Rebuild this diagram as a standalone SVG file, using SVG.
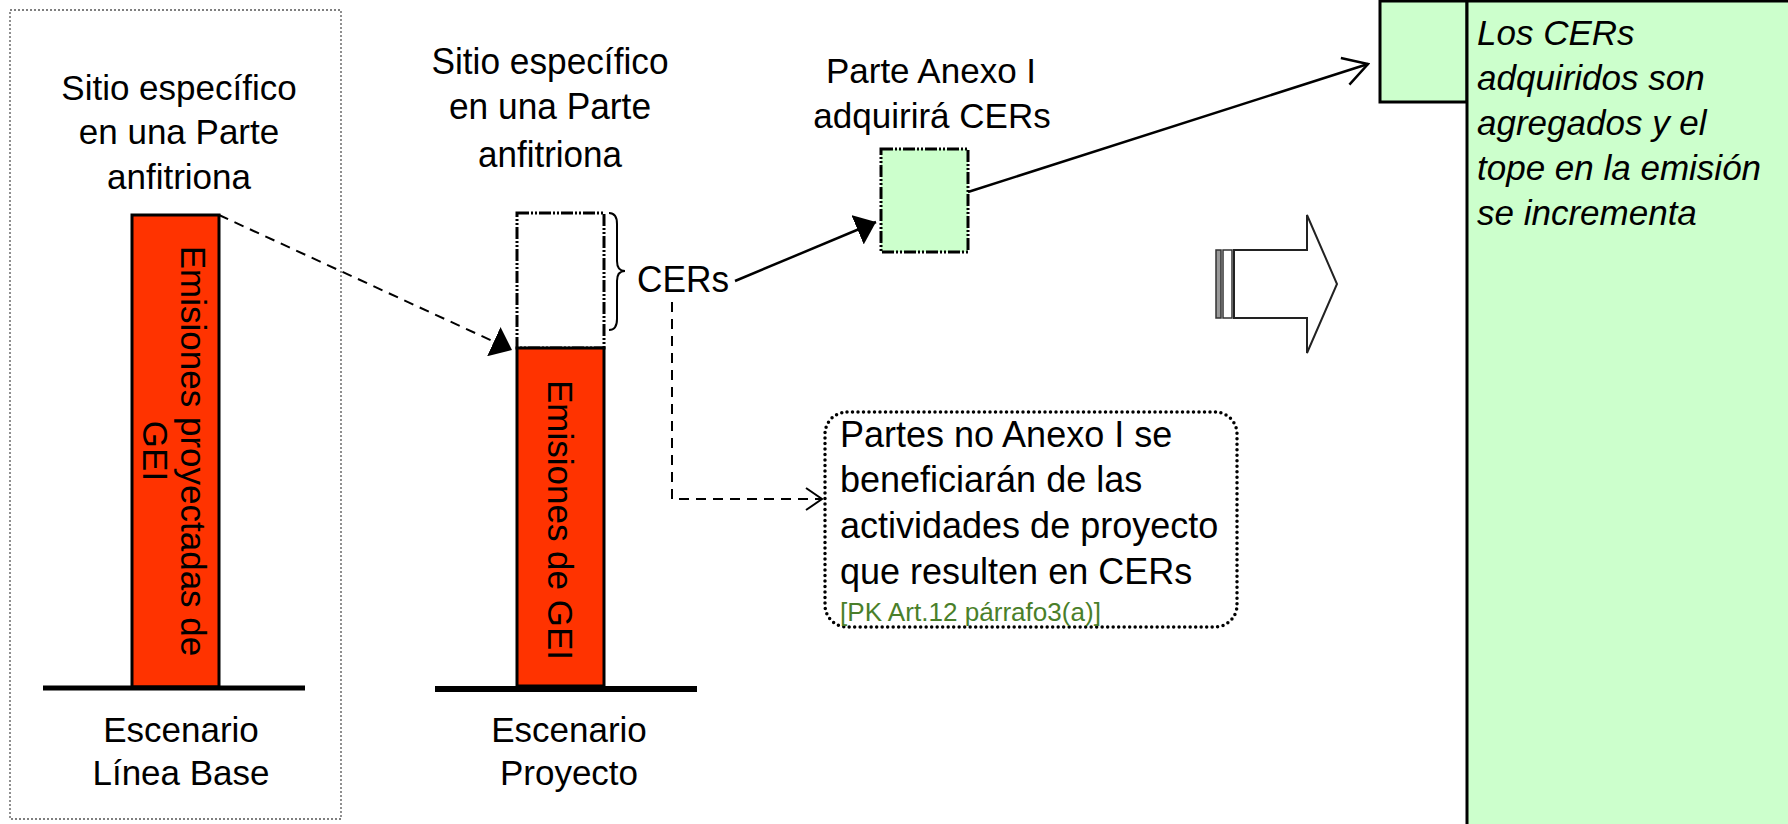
<svg xmlns="http://www.w3.org/2000/svg" width="1788" height="824" viewBox="0 0 1788 824">
<style>
text{font-family:"Liberation Sans",Arial,sans-serif;fill:#000}
.t35{font-size:35px}
.t37{font-size:37px}
.mid{text-anchor:middle}
.red{fill:#FF3300;stroke:#000;stroke-width:3}
.base{stroke:#000;stroke-width:6}
.dd{stroke:#000;stroke-width:3;stroke-dasharray:12 2 2 2 2 2}
.conn{fill:none;stroke:#000;stroke-width:2.5}
.dash{fill:none;stroke:#000;stroke-width:2;stroke-dasharray:10 7}
.green{fill:#CCFFCC}
</style>
<defs>
<marker id="fill" markerUnits="userSpaceOnUse" viewBox="0 0 20 32" refX="20" refY="16" markerWidth="20" markerHeight="32" orient="auto">
<path d="M0,0 L20,16 L0,32 Z" fill="#000"/>
</marker>
<marker id="vbig" markerUnits="userSpaceOnUse" viewBox="-2 -2 28 32" refX="24" refY="14" markerWidth="28" markerHeight="32" orient="auto">
<path d="M0,0 L24,14 L0,28" fill="none" stroke="#000" stroke-width="2.5"/>
</marker>
<marker id="vsmall" markerUnits="userSpaceOnUse" viewBox="-2 -2 20 26" refX="16" refY="11" markerWidth="20" markerHeight="26" orient="auto">
<path d="M0,0 L16,11 L0,22" fill="none" stroke="#000" stroke-width="2"/>
</marker>
</defs>
<rect width="1788" height="824" fill="#fff"/>

<g id="baseline-panel">
<rect x="10" y="10" width="331" height="809" fill="none" stroke="#555" stroke-width="1.3" stroke-dasharray="2 2"/>
<text class="t35 mid" x="179" y="100">Sitio específico</text>
<text class="t35 mid" x="179" y="144">en una Parte</text>
<text class="t35 mid" x="179" y="189">anfitriona</text>
<rect class="red" x="132" y="215" width="87" height="472"/>
<g transform="translate(181,451) rotate(90)">
<text class="t35 mid" x="0" y="0">Emisiones proyectadas de</text>
<text class="t35 mid" x="0" y="38">GEI</text>
</g>
<line class="base" x1="43" y1="688" x2="305" y2="688" style="stroke-width:5"/>
<text class="t35 mid" x="181" y="742">Escenario</text>
<text class="t35 mid" x="181" y="785">Línea Base</text>
</g>

<g id="project-panel">
<text class="t37 mid" x="550" y="74" textLength="237" lengthAdjust="spacingAndGlyphs">Sitio específico</text>
<text class="t37 mid" x="550" y="119" textLength="202" lengthAdjust="spacingAndGlyphs">en una Parte</text>
<text class="t37 mid" x="550" y="167" textLength="144" lengthAdjust="spacingAndGlyphs">anfitriona</text>
<rect class="dd" x="517" y="213" width="87" height="135" fill="none"/>
<rect class="red" x="517" y="348" width="87" height="338"/>
<g transform="translate(548,520) rotate(90)">
<text class="t35 mid" x="0" y="0">Emisiones de GEI</text>
</g>
<line class="base" x1="435" y1="689" x2="697" y2="689"/>
<text class="t35 mid" x="569" y="742">Escenario</text>
<text class="t35 mid" x="569" y="785">Proyecto</text>
</g>

<g id="cers">
<path d="M609,213 Q617,213 617,224 L617,261 Q617,271 625,271 Q617,271 617,281 L617,319 Q617,330 609,330" fill="none" stroke="#000" stroke-width="2"/>
<text class="t37" x="637" y="292" textLength="92" lengthAdjust="spacingAndGlyphs">CERs</text>
</g>

<g id="annex-i">
<text class="t35 mid" x="931" y="83">Parte Anexo I</text>
<text class="t35 mid" x="932" y="128">adquirirá CERs</text>
<rect class="dd green" x="881" y="149" width="87" height="103"/>
</g>

<g id="non-annex-i">
<rect x="825" y="412" width="412" height="215" rx="22" ry="22" fill="none" stroke="#000" stroke-width="3.5" stroke-linecap="round" stroke-dasharray="0 5.5"/>
<text class="t35" x="840" y="447" style="font-size:36px">Partes no Anexo I se</text>
<text class="t35" x="840" y="492" style="font-size:36px">beneficiarán de las</text>
<text class="t35" x="840" y="538" style="font-size:36px">actividades de proyecto</text>
<text class="t35" x="840" y="584" style="font-size:36px">que resulten en CERs</text>
<text x="840" y="621" style="font-size:26px;fill:#4A7F2A" textLength="261" lengthAdjust="spacingAndGlyphs">[PK Art.12 párrafo3(a)]</text>
</g>

<g id="block-arrow">
<rect x="1216" y="250" width="5" height="68" fill="#999" stroke="#333" stroke-width="1.5"/>
<rect x="1223" y="250" width="9" height="68" fill="#fff" stroke="#333" stroke-width="1.5"/>
<path d="M1234,250 L1307,250 L1307,215 L1337,284 L1307,353 L1307,318 L1234,318 Z" fill="#fff" stroke="#222" stroke-width="2"/>
</g>

<g id="result">
<rect class="green" x="1380" y="1" width="87" height="101" stroke="#000" stroke-width="3"/>
<rect class="green" x="1467" y="1" width="340" height="840" stroke="#000" stroke-width="3"/>
<text class="t35" x="1477" y="45" font-style="italic">Los CERs</text>
<text class="t35" x="1477" y="90" font-style="italic">adquiridos son</text>
<text class="t35" x="1477" y="135" font-style="italic">agregados y el</text>
<text class="t35" x="1477" y="180" font-style="italic">tope en la emisión</text>
<text class="t35" x="1477" y="225" font-style="italic">se incrementa</text>
</g>

<g id="connectors">
<line class="dash" x1="219" y1="215" x2="512" y2="350" marker-end="url(#fill)"/>
<line class="conn" x1="735" y1="281" x2="876" y2="222" marker-end="url(#fill)"/>
<line class="conn" x1="968" y1="192" x2="1368" y2="64" marker-end="url(#vbig)"/>
<path class="dash" d="M672,302 L672,499 L822,499" marker-end="url(#vsmall)"/>
</g>
</svg>
